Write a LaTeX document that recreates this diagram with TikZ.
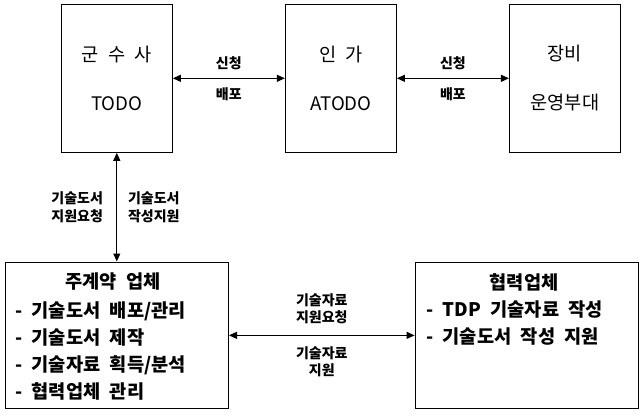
\documentclass[tikz,border=0pt]{standalone}
\usepackage{fontspec}
\setmainfont{Noto Sans CJK KR}[WordSpace=2.2]
\usetikzlibrary{positioning,arrows.meta}
\begin{document}
\begin{tikzpicture}[x=0.75pt,y=-0.75pt,
  unitbox/.style={draw, line width=0.8pt, minimum width=83.25pt, minimum height=111pt,
    inner sep=0pt, align=center, font=\fontsize{14}{36.75}\selectfont},
  firmbox/.style={draw, line width=0.8pt, minimum width=167.5pt, minimum height=110pt, inner sep=0pt},
  firmhead/.style={inner sep=0pt, font=\fontsize{14}{20}\selectfont\bfseries},
  firmitems/.style={inner sep=0pt, anchor=west, align=left, font=\fontsize{14}{20.25}\selectfont\bfseries},
  link/.style={line width=0.8pt, {Triangle[length=6pt,width=5.25pt]}-{Triangle[length=6pt,width=5.25pt]}},
  tag/.style={inner sep=0pt, align=center, font=\fontsize{10.5}{13}\selectfont\bfseries}]
    \useasboundingbox (0,0) rectangle (642,414);
    \node[unitbox] (gunsusa) at (116.8,78.3) {군 수 사\\TODO};
    \node[unitbox, right=84pt of gunsusa] (inga) {인 가\\ATODO};
    \node[unitbox, right=84pt of inga] (unit) {장비\\운영부대};
    \node[firmbox, below=81.5pt of gunsusa] (prime) {};
    \node[firmbox, right=139.2pt of prime] (partner) {};
    \node[firmhead] (primetitle) at (113,282) {주계약 업체};
    \node[firmitems] (primeitems) at (15,351) {- 기술도서 배포/관리\\- 기술도서 제작\\- 기술자료 획득/분석\\- 협력업체 관리};
    \node[firmhead] (partnertitle) at (524,282) {협력업체};
    \node[firmitems] (partneritems) at (426,323) {- TDP 기술자료 작성\\- 기술도서 작성 지원};
    \draw[link] (gunsusa) -- (inga)
        node[tag, midway, above=6pt] {신청}
        node[tag, midway, below=7pt] {배포};
    \draw[link] (inga) -- (unit)
        node[tag, midway, above=6pt] {신청}
        node[tag, midway, below=7pt] {배포};
    \draw[link] (gunsusa) -- (prime)
        node[tag, midway, left=10pt] {기술도서\\지원요청}
        node[tag, midway, right=8pt] {기술도서\\작성지원};
    \draw[link] (prime) -- (partner)
        node[tag, midway, above=8pt] {기술자료\\지원요청}
        node[tag, midway, below=8pt] {기술자료\\지원};
\end{tikzpicture}
\end{document}
